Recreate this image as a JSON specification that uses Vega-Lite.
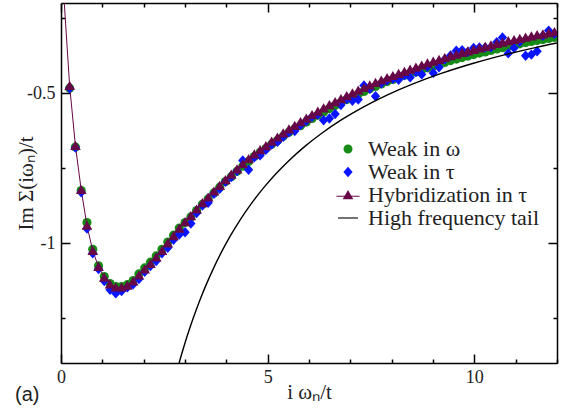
{
"$schema":"https://vega.github.io/schema/vega-lite/v6.json",
"width":496,"height":360,
"autosize":{"type":"none"},
"padding":{"left":61,"top":3,"right":9,"bottom":53},
"background":"white",
"config":{"view":{"stroke":null},"font":"Liberation Serif"},
"title":{"text":"(a)","orient":"bottom","anchor":"start","frame":"bounds","font":"Liberation Sans","fontSize":20,"fontWeight":"normal","color":"#222","offset":-17},
"datasets":{
"pts":[
{"x":0.070,"w":-0.185,"t":-0.183,"h":-0.180},
{"x":0.209,"w":-0.484,"t":-0.484,"h":-0.476},
{"x":0.349,"w":-0.680,"t":-0.682,"h":-0.676},
{"x":0.489,"w":-0.825,"t":-0.831,"h":-0.823},
{"x":0.628,"w":-0.932,"t":-0.952,"h":-0.942},
{"x":0.768,"w":-1.021,"t":-1.034,"h":-1.026},
{"x":0.908,"w":-1.076,"t":-1.087,"h":-1.079},
{"x":1.047,"w":-1.112,"t":-1.127,"h":-1.115},
{"x":1.187,"w":-1.135,"t":-1.156,"h":-1.138},
{"x":1.326,"w":-1.145,"t":-1.168,"h":-1.148},
{"x":1.466,"w":-1.145,"t":-1.160,"h":-1.148},
{"x":1.606,"w":-1.139,"t":-1.148,"h":-1.142},
{"x":1.745,"w":-1.125,"t":-1.138,"h":-1.128},
{"x":1.885,"w":-1.103,"t":-1.120,"h":-1.108},
{"x":2.025,"w":-1.083,"t":-1.096,"h":-1.088},
{"x":2.164,"w":-1.064,"t":-1.077,"h":-1.069},
{"x":2.304,"w":-1.043,"t":-1.060,"h":-1.048},
{"x":2.443,"w":-1.021,"t":-1.034,"h":-1.026},
{"x":2.583,"w":-0.997,"t":-1.016,"h":-1.001},
{"x":2.723,"w":-0.974,"t":-0.989,"h":-0.977},
{"x":2.862,"w":-0.950,"t":-0.972,"h":-0.952},
{"x":3.002,"w":-0.932,"t":-0.964,"h":-0.930},
{"x":3.142,"w":-0.913,"t":-0.935,"h":-0.910},
{"x":3.281,"w":-0.892,"t":-0.900,"h":-0.888},
{"x":3.421,"w":-0.871,"t":-0.875,"h":-0.867},
{"x":3.560,"w":-0.853,"t":-0.866,"h":-0.848},
{"x":3.700,"w":-0.833,"t":-0.836,"h":-0.828},
{"x":3.840,"w":-0.814,"t":-0.819,"h":-0.809},
{"x":3.979,"w":-0.795,"t":-0.796,"h":-0.790},
{"x":4.119,"w":-0.779,"t":-0.780,"h":-0.772},
{"x":4.259,"w":-0.761,"t":-0.760,"h":-0.754},
{"x":4.398,"w":-0.744,"t":-0.725,"h":-0.737},
{"x":4.538,"w":-0.728,"t":-0.756,"h":-0.720},
{"x":4.677,"w":-0.712,"t":-0.714,"h":-0.704},
{"x":4.817,"w":-0.698,"t":-0.708,"h":-0.690},
{"x":4.957,"w":-0.685,"t":-0.689,"h":-0.677},
{"x":5.096,"w":-0.671,"t":-0.672,"h":-0.662},
{"x":5.236,"w":-0.658,"t":-0.663,"h":-0.648},
{"x":5.376,"w":-0.644,"t":-0.646,"h":-0.634},
{"x":5.515,"w":-0.631,"t":-0.631,"h":-0.621},
{"x":5.655,"w":-0.619,"t":-0.627,"h":-0.609},
{"x":5.794,"w":-0.609,"t":-0.607,"h":-0.597},
{"x":5.934,"w":-0.597,"t":-0.593,"h":-0.585},
{"x":6.074,"w":-0.585,"t":-0.579,"h":-0.573},
{"x":6.213,"w":-0.574,"t":-0.572,"h":-0.562},
{"x":6.353,"w":-0.563,"t":-0.591,"h":-0.551},
{"x":6.493,"w":-0.552,"t":-0.585,"h":-0.540},
{"x":6.632,"w":-0.542,"t":-0.570,"h":-0.530},
{"x":6.772,"w":-0.532,"t":-0.540,"h":-0.520},
{"x":6.912,"w":-0.522,"t":-0.520,"h":-0.510},
{"x":7.051,"w":-0.513,"t":-0.526,"h":-0.501},
{"x":7.191,"w":-0.504,"t":-0.522,"h":-0.492},
{"x":7.330,"w":-0.495,"t":-0.475,"h":-0.483},
{"x":7.470,"w":-0.486,"t":-0.486,"h":-0.474},
{"x":7.610,"w":-0.478,"t":-0.511,"h":-0.466},
{"x":7.749,"w":-0.470,"t":-0.468,"h":-0.458},
{"x":7.889,"w":-0.462,"t":-0.458,"h":-0.450},
{"x":8.029,"w":-0.455,"t":-0.453,"h":-0.443},
{"x":8.168,"w":-0.448,"t":-0.456,"h":-0.436},
{"x":8.308,"w":-0.441,"t":-0.441,"h":-0.429},
{"x":8.447,"w":-0.434,"t":-0.448,"h":-0.422},
{"x":8.587,"w":-0.430,"t":-0.430,"h":-0.415},
{"x":8.727,"w":-0.423,"t":-0.438,"h":-0.408},
{"x":8.866,"w":-0.416,"t":-0.413,"h":-0.401},
{"x":9.006,"w":-0.410,"t":-0.433,"h":-0.395},
{"x":9.146,"w":-0.404,"t":-0.414,"h":-0.389},
{"x":9.285,"w":-0.398,"t":-0.388,"h":-0.383},
{"x":9.425,"w":-0.392,"t":-0.375,"h":-0.377},
{"x":9.564,"w":-0.387,"t":-0.359,"h":-0.372},
{"x":9.704,"w":-0.382,"t":-0.357,"h":-0.366},
{"x":9.844,"w":-0.377,"t":-0.363,"h":-0.361},
{"x":9.983,"w":-0.372,"t":-0.350,"h":-0.356},
{"x":10.123,"w":-0.367,"t":-0.348,"h":-0.351},
{"x":10.263,"w":-0.363,"t":-0.348,"h":-0.346},
{"x":10.402,"w":-0.358,"t":-0.348,"h":-0.341},
{"x":10.542,"w":-0.353,"t":-0.331,"h":-0.336},
{"x":10.681,"w":-0.349,"t":-0.315,"h":-0.332},
{"x":10.821,"w":-0.344,"t":-0.368,"h":-0.327},
{"x":10.961,"w":-0.340,"t":-0.350,"h":-0.323},
{"x":11.100,"w":-0.336,"t":-0.329,"h":-0.319},
{"x":11.240,"w":-0.332,"t":-0.376,"h":-0.315},
{"x":11.380,"w":-0.328,"t":-0.372,"h":-0.311},
{"x":11.519,"w":-0.325,"t":-0.361,"h":-0.307},
{"x":11.659,"w":-0.322,"t":-0.309,"h":-0.304},
{"x":11.798,"w":-0.318,"t":-0.292,"h":-0.300},
{"x":11.938,"w":-0.315,"t":-0.303,"h":-0.297}
],
"tail":[
{"x":2.8,"y":-1.4286},{"x":2.9,"y":-1.3793},{"x":3.0,"y":-1.3333},{"x":3.1,"y":-1.2903},
{"x":3.2,"y":-1.25},{"x":3.35,"y":-1.1940},{"x":3.5,"y":-1.1429},{"x":3.7,"y":-1.0811},
{"x":3.9,"y":-1.0256},{"x":4.1,"y":-0.9756},{"x":4.35,"y":-0.9195},{"x":4.6,"y":-0.8696},
{"x":4.9,"y":-0.8163},{"x":5.2,"y":-0.7692},{"x":5.5,"y":-0.7273},{"x":5.9,"y":-0.6780},
{"x":6.3,"y":-0.6349},{"x":6.8,"y":-0.5882},{"x":7.3,"y":-0.5479},{"x":7.9,"y":-0.5063},
{"x":8.5,"y":-0.4706},{"x":9.2,"y":-0.4348},{"x":10.0,"y":-0.4},{"x":10.8,"y":-0.3704},
{"x":11.5,"y":-0.3478},{"x":12.0,"y":-0.3333}
]},
"layer":[
{"data":{"name":"pts"},
 "mark":{"type":"point","filled":true,"shape":"circle","size":84,"opacity":1,"clip":true,"color":"#168c16"},
 "encoding":{
  "x":{"field":"x","type":"quantitative","scale":{"domain":[0,12],"nice":false,"zero":false},
   "axis":{"orient":"bottom","values":[0,1,2,3,4,5,6,7,8,9,10,11,12],"labelExpr":"datum.value % 5 === 0 ? datum.label : ''",
    "tickSize":{"condition":{"test":"datum.value % 5 === 0","value":-9},"value":-4},
    "grid":false,"domainColor":"black","domainWidth":1.5,"tickColor":"black","tickWidth":1.5,
    "labelFont":"Liberation Serif",
    "labelFontSize":18,"labelColor":"#222","labelPadding":14,"labelFlush":false,"labelOverlap":false,
    "title":"i ωₙ/t","titleFont":"Liberation Serif","titleFontSize":21,"titleFontWeight":"normal","titleColor":"#222",
    "titleBaseline":"alphabetic","titleY":35}},
  "y":{"field":"w","type":"quantitative","scale":{"domain":[-1.4,-0.2],"nice":false,"zero":false},
   "axis":{"orient":"left","values":[-1.25,-1,-0.75,-0.5,-0.25],"labelExpr":"datum.value === -0.5 ? '-0.5' : (datum.value === -1 ? '-1' : '')",
    "tickSize":{"condition":{"test":"datum.value === -0.5 || datum.value === -1","value":-9},"value":-4},
    "grid":false,"domainColor":"black","domainWidth":1.5,"tickColor":"black","tickWidth":1.5,
    "labelFont":"Liberation Serif",
    "labelFontSize":18,"labelColor":"#222","labelPadding":15,"labelFlush":false,"labelOverlap":false,
    "title":"Im Σ(iωₙ)/t","titleFont":"Liberation Serif","titleFontSize":21,"titleFontWeight":"normal","titleColor":"#222",
    "titleAngle":270,"titleBaseline":"alphabetic","titleX":-29,"titleY":180}}
 }},
{"data":{"name":"pts"},
 "mark":{"type":"line","color":"#670748","strokeWidth":1,"clip":true},
 "encoding":{
  "x":{"field":"x","type":"quantitative",
   "axis":{"orient":"top","values":[0,1,2,3,4,5,6,7,8,9,10,11,12],"labels":false,"title":null,
    "tickSize":{"condition":{"test":"datum.value % 5 === 0","value":-9},"value":-4},
    "grid":false,"domainColor":"black","domainWidth":1.5,"tickColor":"black","tickWidth":1.5}},
  "y":{"field":"h","type":"quantitative",
   "axis":{"orient":"right","values":[-1.25,-1,-0.75,-0.5,-0.25],"labels":false,"title":null,
    "tickSize":{"condition":{"test":"datum.value === -0.5 || datum.value === -1","value":-9},"value":-4},
    "grid":false,"domainColor":"black","domainWidth":1.5,"tickColor":"black","tickWidth":1.5}}
 }},
{"data":{"name":"pts"},
 "mark":{"type":"point","filled":true,"shape":"M0,-0.47L0.42,0L0,0.47L-0.42,0Z","size":490,"opacity":1,"clip":true,"color":"#0a14ff"},
 "encoding":{
  "x":{"field":"x","type":"quantitative","axis":null},
  "y":{"field":"t","type":"quantitative","axis":null}
 }},
{"data":{"name":"pts"},
 "mark":{"type":"point","filled":true,"shape":"M0,-0.45L0.48,0.38L-0.48,0.38Z","size":490,"opacity":1,"clip":true,"color":"#670748"},
 "encoding":{
  "x":{"field":"x","type":"quantitative","axis":null},
  "y":{"field":"h","type":"quantitative","axis":null}
 }},
{"data":{"name":"tail"},
 "mark":{"type":"line","color":"#000000","strokeWidth":1.4,"clip":true,"interpolate":"monotone"},
 "encoding":{
  "x":{"field":"x","type":"quantitative","axis":null},
  "y":{"field":"y","type":"quantitative","axis":null}
 }},
{"data":{"values":[]},
 "mark":{"type":"point","filled":true,"opacity":1},
 "encoding":{
  "color":{"field":"series","type":"nominal",
   "scale":{"domain":["w","t","h","tail"],"range":["#168c16","#0a14ff","#670748","#000000"]},
   "legend":{"orient":"none","legendX":275,"legendY":134,"title":null,"padding":0,"symbolSize":490,"symbolOpacity":1,
    "labelFont":"Liberation Serif","labelFontSize":22,"labelColor":"#222","labelOffset":8,"rowPadding":0,"labelLimit":400,
    "labelExpr":"datum.label == 'w' ? 'Weak in ω' : (datum.label == 't' ? 'Weak in τ' : (datum.label == 'h' ? 'Hybridization in τ' : 'High frequency tail'))"}},
  "shape":{"field":"series","type":"nominal",
   "scale":{"domain":["w","t","h","tail"],"range":[
    "M-0.41,0A0.41,0.41,0,1,1,0.41,0A0.41,0.41,0,1,1,-0.41,0Z",
    "M0,-0.47L0.42,0L0,0.47L-0.42,0Z",
    "M-1.05,0.06H1.05V0.15H-1.05ZM0,-0.45L0.48,0.38L-0.48,0.38Z",
    "M-0.9,-0.05H0.9V0.05H-0.9Z"]},
   "legend":{"orient":"none","legendX":275,"legendY":134,"title":null,"padding":0,"symbolSize":490,"symbolOpacity":1,
    "labelFont":"Liberation Serif","labelFontSize":22,"labelColor":"#222","labelOffset":8,"rowPadding":0,"labelLimit":400,
    "labelExpr":"datum.label == 'w' ? 'Weak in ω' : (datum.label == 't' ? 'Weak in τ' : (datum.label == 'h' ? 'Hybridization in τ' : 'High frequency tail'))"}}
 }}
],
"resolve":{"axis":{"x":"independent","y":"independent"}}
}
